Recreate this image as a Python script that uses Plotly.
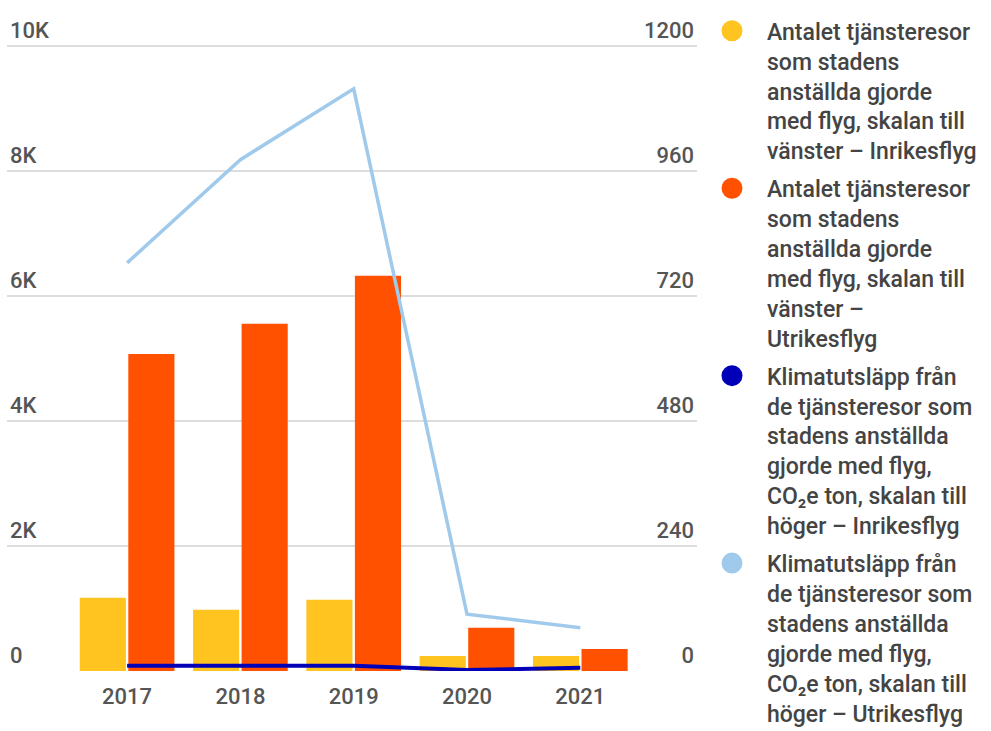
import plotly.graph_objects as go

years = ["2017", "2018", "2019", "2020", "2021"]
inrikes_resor = [1170, 980, 1140, 240, 240]
utrikes_resor = [5070, 5550, 6320, 690, 350]
inrikes_co2 = [10, 10, 10, 2, 6]
utrikes_co2 = [783, 981, 1117, 109, 83]

left_tickvals = [0, 2000, 4000, 6000, 8000, 10000]
left_ticktext = ["0", "2K", "4K", "6K", "8K", "10K"]
right_tickvals = [0, 240, 480, 720, 960, 1200]
right_ticktext = ["0", "240", "480", "720", "960", "1200"]

names = [
    "Antalet tjänsteresor<br>som stadens<br>anställda gjorde<br>med flyg, skalan till<br>vänster – Inrikesflyg",
    "Antalet tjänsteresor<br>som stadens<br>anställda gjorde<br>med flyg, skalan till<br>vänster –<br>Utrikesflyg",
    "Klimatutsläpp från<br>de tjänsteresor som<br>stadens anställda<br>gjorde med flyg,<br>CO₂e ton, skalan till<br>höger – Inrikesflyg",
    "Klimatutsläpp från<br>de tjänsteresor som<br>stadens anställda<br>gjorde med flyg,<br>CO₂e ton, skalan till<br>höger – Utrikesflyg",
]
colors = ["#FFC41F", "#FF5100", "#0000B8", "#A0CAEC"]

font_family = "Roboto, sans-serif"
tick_font = dict(family=font_family, size=22, color="#555555", weight=500)

fig = go.Figure()
fig.add_trace(go.Bar(x=years, y=inrikes_resor, marker=dict(color=colors[0], line_width=0),
                     showlegend=False, hoverinfo="skip"))
fig.add_trace(go.Bar(x=years, y=utrikes_resor, marker=dict(color=colors[1], line_width=0),
                     showlegend=False, hoverinfo="skip"))
fig.add_trace(go.Scatter(x=years, y=inrikes_co2, yaxis="y2", mode="lines",
                         line=dict(color=colors[2], width=4), showlegend=False, hoverinfo="skip"))
fig.add_trace(go.Scatter(x=years, y=utrikes_co2, yaxis="y2", mode="lines",
                         line=dict(color=colors[3], width=3.5), showlegend=False, hoverinfo="skip"))

# legend entries with circle symbols
for i, (name, c) in enumerate(zip(names, colors)):
    fig.add_trace(go.Scatter(x=[None], y=[None], mode="markers", name=name,
                             legendgroup=f"g{i}",
                             marker=dict(color=c, size=30, symbol="circle", line=dict(color=c, width=5)),
                             hoverinfo="skip"))

left_max = 10600
right_max = 1200 * left_max / 10000

fig.update_layout(
    width=991, height=731,
    margin=dict(l=7, r=294, t=8, b=60, autoexpand=False),
    paper_bgcolor="white", plot_bgcolor="white",
    barmode="group", bargap=0.143, bargroupgap=0.05,
    xaxis=dict(type="category", range=[-1.06, 5.03], showgrid=False, zeroline=False,
               showline=False, ticks="", tickfont=tick_font, ticklabelstandoff=10,
               automargin=False),
    yaxis=dict(range=[0, left_max], tickvals=left_tickvals, ticktext=left_ticktext,
               ticklabelposition="inside top", gridcolor="#DDDDDD", gridwidth=2,
               zeroline=False, showline=False, ticks="", tickfont=tick_font, automargin=False),
    yaxis2=dict(range=[0, right_max], tickvals=right_tickvals, ticktext=right_ticktext,
                overlaying="y", side="right", ticklabelposition="inside top",
                showgrid=False, zeroline=False, showline=False, ticks="", tickfont=tick_font,
                automargin=False),
    legend=dict(x=1.0, y=0.998, xanchor="left", yanchor="top", valign="top",
                itemwidth=60, bgcolor="rgba(0,0,0,0)", maxheight=731,
                traceorder="grouped", tracegroupgap=5,
                font=dict(family=font_family, size=23, color="#444444", weight=500)),
    showlegend=True,
)

fig.write_html("out.html", config={"displayModeBar": False},
               post_script="document.body.style.margin='0';document.body.style.overflow='hidden';")
